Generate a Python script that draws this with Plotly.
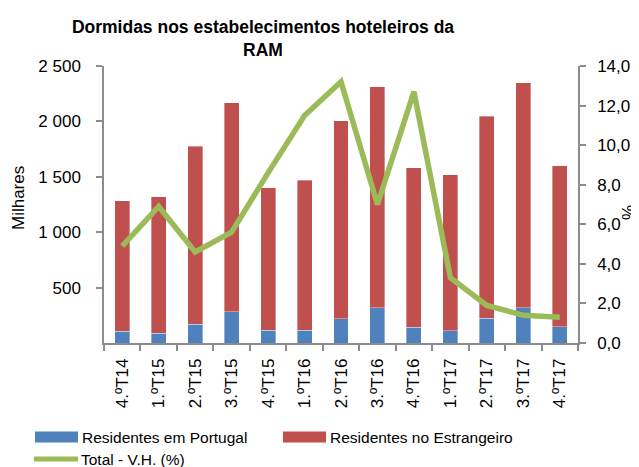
import plotly.graph_objects as go

categories = ["4.ºT14", "1.ºT15", "2.ºT15", "3.ºT15", "4.ºT15", "1.ºT16", "2.ºT16",
              "3.ºT16", "4.ºT16", "1.ºT17", "2.ºT17", "3.ºT17", "4.ºT17"]
residentes_portugal = [105, 90, 171, 280, 117, 117, 219, 316, 141, 111, 222, 316, 147]
totais = [1285, 1321, 1775, 2167, 1400, 1468, 2007, 2314, 1580, 1520, 2046, 2348, 1598]
residentes_estrangeiro = [t - p for t, p in zip(totais, residentes_portugal)]
total_vh = [4.9, 6.9, 4.6, 5.6, 8.6, 11.5, 13.2, 7.0, 12.7, 3.3, 1.9, 1.4, 1.3]

left_ticks = [500, 1000, 1500, 2000, 2500]
left_ticktext = ["500", "1 000", "1 500", "2 000", "2 500"]
right_ticks = [0, 2, 4, 6, 8, 10, 12, 14]
right_ticktext = ["0,0", "2,0", "4,0", "6,0", "8,0", "10,0", "12,0", "14,0"]

BLUE = "#4F81BD"
RED = "#C0504D"
GREEN = "#9BBB59"
FONT = "Liberation Sans, Arial, sans-serif"

# The page body has an 8px margin; the figure is sized so that the plot area
# lands at x 104..578, y 66..343 of the 639x467 window.
FIG_W, FIG_H = 631, 459
PL, PR, PT, PB = 104, 578, 66, 343  # plot area in window pixels


def px(xw):
    return (xw - PL) / (PR - PL)


def py(yw):
    return (PB - yw) / (PB - PT)


fig = go.Figure()
fig.add_trace(go.Bar(x=categories, y=residentes_portugal, name="Residentes em Portugal",
                     marker=dict(color=BLUE, line=dict(color="rgba(255,255,255,0.6)", width=0.6)),
                     yaxis="y"))
fig.add_trace(go.Bar(x=categories, y=residentes_estrangeiro, name="Residentes no Estrangeiro",
                     marker=dict(color=RED, line=dict(color="rgba(255,255,255,0.6)", width=0.6)),
                     yaxis="y"))
fig.add_trace(go.Scatter(x=categories, y=total_vh, name="Total - V.H. (%)", mode="lines",
                         line=dict(color=GREEN, width=5.5), yaxis="y2"))

axis_common = dict(showline=True, linecolor="#8C8C8C", linewidth=1.5, ticks="outside",
                   tickcolor="#8C8C8C", ticklen=6, tickwidth=1.5, showgrid=False,
                   zeroline=False, automargin=False,
                   tickfont=dict(family=FONT, size=17, color="black"))

fig.update_layout(
    width=FIG_W, height=FIG_H,
    margin=dict(l=PL - 8, r=FIG_W - (PR - 8), t=PT - 8, b=FIG_H - (PB - 8), autoexpand=False),
    paper_bgcolor="white", plot_bgcolor="white",
    barmode="stack", bargap=0.59,
    showlegend=False,
    title=dict(text="<b>Dormidas nos estabelecimentos hoteleiros da<br>RAM</b>",
               x=(263 - 8) / FIG_W, xanchor="center", xref="container",
               y=1 - 25 / FIG_H, yanchor="top", yref="container",
               font=dict(family=FONT, size=17.5, color="black")),
    xaxis=dict(**axis_common, tickangle=-90, tickson="boundaries", type="category",
               ticklabelstandoff=7),
    yaxis=dict(**axis_common, range=[0, 2500], tickvals=left_ticks, ticktext=left_ticktext,
               ticklabelstandoff=12),
    yaxis2=dict(**axis_common, range=[0, 14], tickvals=right_ticks, ticktext=right_ticktext,
                overlaying="y", side="right", ticklabelstandoff=8),
)

# Axis titles
fig.add_annotation(text="Milhares", xref="paper", yref="paper", x=px(18), y=py(198),
                   textangle=-90, showarrow=False, xanchor="center", yanchor="middle",
                   font=dict(family=FONT, size=17, color="black"))
fig.add_annotation(text="%", xref="paper", yref="paper", x=px(628), y=py(213),
                   textangle=-90, showarrow=False, xanchor="center", yanchor="middle",
                   font=dict(family=FONT, size=17, color="black"))

# Manual legend (wide Excel-style swatches)
legend_items = [
    ("rect", BLUE, "Residentes em Portugal", 35, 437),
    ("rect", RED, "Residentes no Estrangeiro", 283, 437),
    ("line", GREEN, "Total - V.H. (%)", 34, 459),
]
for kind, color, label, lx, ly in legend_items:
    if kind == "rect":
        fig.add_shape(type="rect", xref="paper", yref="paper",
                      x0=px(lx), x1=px(lx + 43), y0=py(ly + 5.5), y1=py(ly - 5.5),
                      fillcolor=color, line=dict(width=0))
    else:
        fig.add_shape(type="line", xref="paper", yref="paper",
                      x0=px(lx), x1=px(lx + 44), y0=py(ly), y1=py(ly),
                      line=dict(color=color, width=5))
    fig.add_annotation(text=label, xref="paper", yref="paper",
                       x=px(lx + 45), y=py(ly), xanchor="left", yanchor="middle",
                       showarrow=False, font=dict(family=FONT, size=15.5, color="black"))

fig.write_html("out.html")
